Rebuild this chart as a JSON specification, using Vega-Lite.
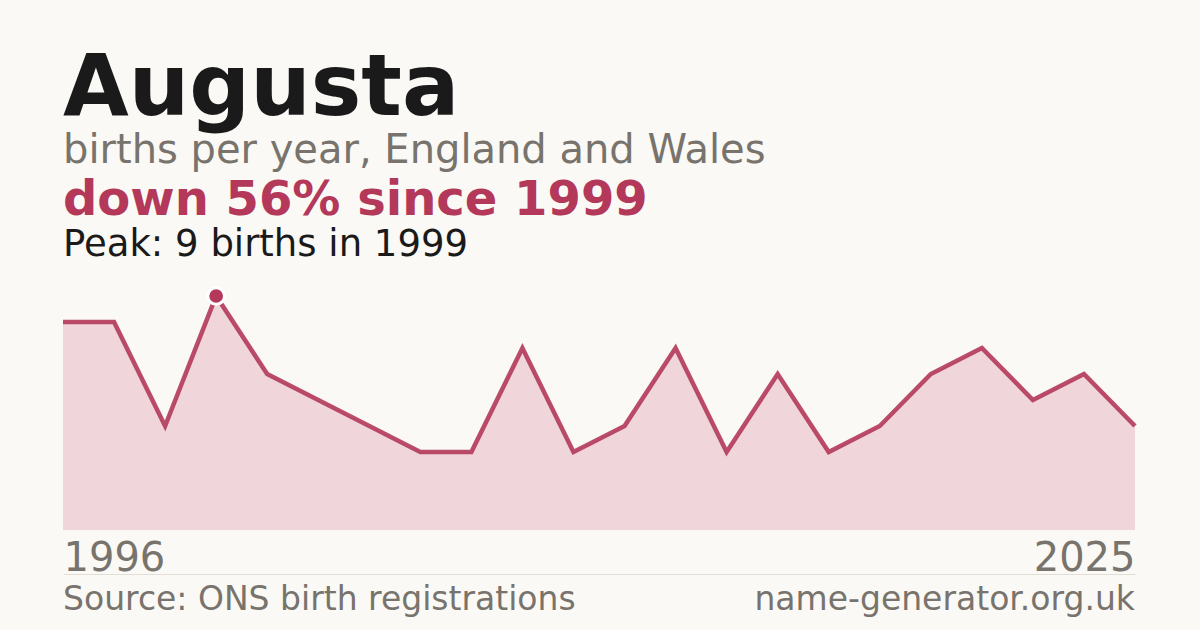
{
  "$schema": "https://vega.github.io/schema/vega-lite/v6.json",
  "background": "#faf9f5",
  "padding": {"left": 54, "right": 64, "top": 46, "bottom": 20},
  "title": {
    "text": "Augusta",
    "subtitle": "births per year, England and Wales",
    "anchor": "start",
    "frame": "group",
    "font": "DejaVu Sans",
    "fontSize": 85,
    "fontWeight": "bold",
    "color": "#1a1a1a",
    "subtitleFont": "DejaVu Sans",
    "subtitleFontSize": 40,
    "subtitleColor": "#78736c",
    "subtitlePadding": -2,
    "offset": 5
  },
  "datasets": {
    "births": [
      {"year": 1996, "births": 8},
      {"year": 1997, "births": 8},
      {"year": 1998, "births": 4},
      {"year": 1999, "births": 9},
      {"year": 2000, "births": 6},
      {"year": 2001, "births": 5},
      {"year": 2002, "births": 4},
      {"year": 2003, "births": 3},
      {"year": 2004, "births": 3},
      {"year": 2006, "births": 7},
      {"year": 2008, "births": 3},
      {"year": 2010, "births": 4},
      {"year": 2011, "births": 7},
      {"year": 2013, "births": 3},
      {"year": 2015, "births": 6},
      {"year": 2016, "births": 3},
      {"year": 2018, "births": 4},
      {"year": 2019, "births": 6},
      {"year": 2021, "births": 7},
      {"year": 2022, "births": 5},
      {"year": 2024, "births": 6},
      {"year": 2025, "births": 4}
    ],
    "footer": [
      {"side": "left", "label": "Source: ONS birth registrations"},
      {"side": "right", "label": "name-generator.org.uk"}
    ]
  },
  "bounds": "flush",
  "spacing": 44,
  "vconcat": [
    {
      "width": 1072,
      "height": 234,
      "title": {
        "text": "down 56% since 1999",
        "subtitle": "Peak: 9 births in 1999",
        "anchor": "start",
        "frame": "group",
        "font": "DejaVu Sans",
        "fontSize": 48,
        "fontWeight": "bold",
        "color": "#b3385a",
        "subtitleFont": "DejaVu Sans",
        "subtitleFontSize": 37,
        "subtitleColor": "#1a1a1a",
        "subtitlePadding": 2,
        "offset": 19
      },
      "data": {"name": "births"},
      "encoding": {
        "x": {
          "field": "year",
          "type": "ordinal",
          "scale": {"type": "point", "padding": 0},
          "axis": {
            "values": [1996, 2025],
            "labelFlush": true,
            "labelAngle": 0,
            "domain": false,
            "ticks": false,
            "grid": false,
            "title": null,
            "labelFont": "DejaVu Sans",
            "labelFontSize": 40,
            "labelColor": "#78736c",
            "labelPadding": 8
          }
        },
        "y": {
          "field": "births",
          "type": "quantitative",
          "scale": {"domain": [0, 9], "nice": false},
          "axis": null
        }
      },
      "layer": [
        {"mark": {"type": "area", "color": "#f0d5db", "opacity": 1}},
        {"mark": {"type": "line", "color": "#b3385a", "strokeWidth": 4.5, "strokeOpacity": 0.9}},
        {
          "transform": [{"filter": "datum.year == 1999"}],
          "mark": {"type": "point", "filled": true, "size": 280, "fill": "#b3385a", "stroke": "#ffffff", "strokeWidth": 3, "opacity": 1}
        }
      ]
    },
    {
      "width": 1072,
      "height": 36,
      "data": {"name": "footer"},
      "encoding": {
        "x": {
          "field": "side",
          "type": "nominal",
          "scale": {"type": "point", "padding": 0, "domain": ["left", "right"]},
          "axis": {
            "orient": "top",
            "labels": false,
            "ticks": false,
            "grid": false,
            "title": null,
            "domainColor": "#e2ded5",
            "domainWidth": 1
          }
        },
        "text": {"field": "label"}
      },
      "layer": [
        {
          "transform": [{"filter": "datum.side == 'left'"}],
          "mark": {"type": "text", "align": "left", "baseline": "alphabetic", "dy": 18, "font": "DejaVu Sans", "fontSize": 33, "color": "#78736c"}
        },
        {
          "transform": [{"filter": "datum.side == 'right'"}],
          "mark": {"type": "text", "align": "right", "baseline": "alphabetic", "dy": 18, "font": "DejaVu Sans", "fontSize": 33, "color": "#78736c"}
        }
      ]
    }
  ],
  "config": {
    "view": {"stroke": null}
  }
}
